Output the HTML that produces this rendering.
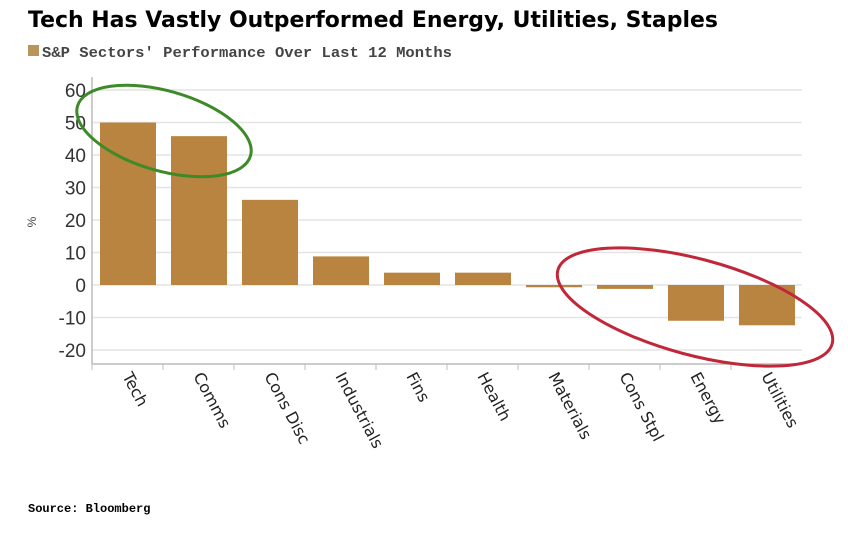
<!DOCTYPE html>
<html><head><meta charset="utf-8"><style>body{margin:0;background:#fff}svg{display:block}</style></head>
<body>
<svg id="chart" width="848" height="534" xmlns="http://www.w3.org/2000/svg" font-family="Liberation Sans, sans-serif">
<text x="28" y="27" font-size="22" font-weight="bold" font-family="DejaVu Sans, sans-serif" textLength="690" lengthAdjust="spacingAndGlyphs">Tech Has Vastly Outperformed Energy, Utilities, Staples</text>
<rect x="28" y="45" width="11" height="11" fill="#b8955a"/>
<text x="42" y="57" font-size="15" font-weight="bold" font-family="Liberation Mono, monospace" fill="#444" textLength="410" lengthAdjust="spacingAndGlyphs">S&amp;P Sectors' Performance Over Last 12 Months</text>
<text x="36" y="222" font-size="12" fill="#444" transform="rotate(-90 36 222)" text-anchor="middle">%</text>
<g id="grid"></g><g id="bars"></g><g id="xlabels"></g>
<line x1="92" y1="77" x2="92" y2="364" stroke="#bbb" stroke-width="1.5"/>
<line x1="92" y1="364" x2="802" y2="364" stroke="#bbb" stroke-width="1.5"/>
<ellipse cx="164" cy="131" rx="90" ry="40" transform="rotate(16 164 131)" fill="none" stroke="#3c8a28" stroke-width="3"/>
<ellipse cx="695" cy="307" rx="142" ry="48" transform="rotate(15 695 307)" fill="none" stroke="#c0283a" stroke-width="3"/>
<text x="28" y="512" font-size="12" font-weight="bold" font-family="Liberation Mono, monospace">Source: Bloomberg</text>
<script>
const categories=["Tech","Comms","Cons Disc","Industrials","Fins","Health","Materials","Cons Stpl","Energy","Utilities"];
const values=[50,45.8,26.2,8.8,3.8,3.8,-0.7,-1.2,-11,-12.4];
const yTicks=[60,50,40,30,20,10,0,-10,-20];
const NS="http://www.w3.org/2000/svg";
const x0=92,step=71,y=v=>285-v*3.25;
const g=document.getElementById('grid'),b=document.getElementById('bars'),xl=document.getElementById('xlabels');
function mk(t,a,p){const e=document.createElementNS(NS,t);for(const k in a)e.setAttribute(k,a[k]);p.appendChild(e);return e;}
yTicks.forEach(t=>{
 const l=mk('line',{x1:x0,x2:802,y1:y(t),y2:y(t),stroke:'#e4e4e4','stroke-width':1.5},g);
 
 
 const tx=mk('text',{x:86,y:y(t)+7,'font-size':19,'text-anchor':'end',fill:'#333'},g);
 tx.textContent=t;
 
 
});
categories.forEach((c,i)=>{
 const v=values[i],top=Math.min(y(v),y(0)),h=Math.abs(y(v)-y(0));
 const r=mk('rect',{x:x0+i*step+8,y:top,width:56,height:Math.max(h,2),fill:'#b8843f'},b);
 
 
 const tk=mk('line',{x1:x0+i*step,x2:x0+i*step,y1:364,y2:370,stroke:'#bbb'},g);
 
 
 const cx=x0+i*step+30,cy=376;
 const t=mk('text',{x:cx,y:cy,'font-size':16,fill:'#222','font-family':'DejaVu Sans, sans-serif',transform:`rotate(62 ${cx} ${cy})`},xl);
 t.textContent=c;
 
 
});
</script>
</svg>
</body></html>
